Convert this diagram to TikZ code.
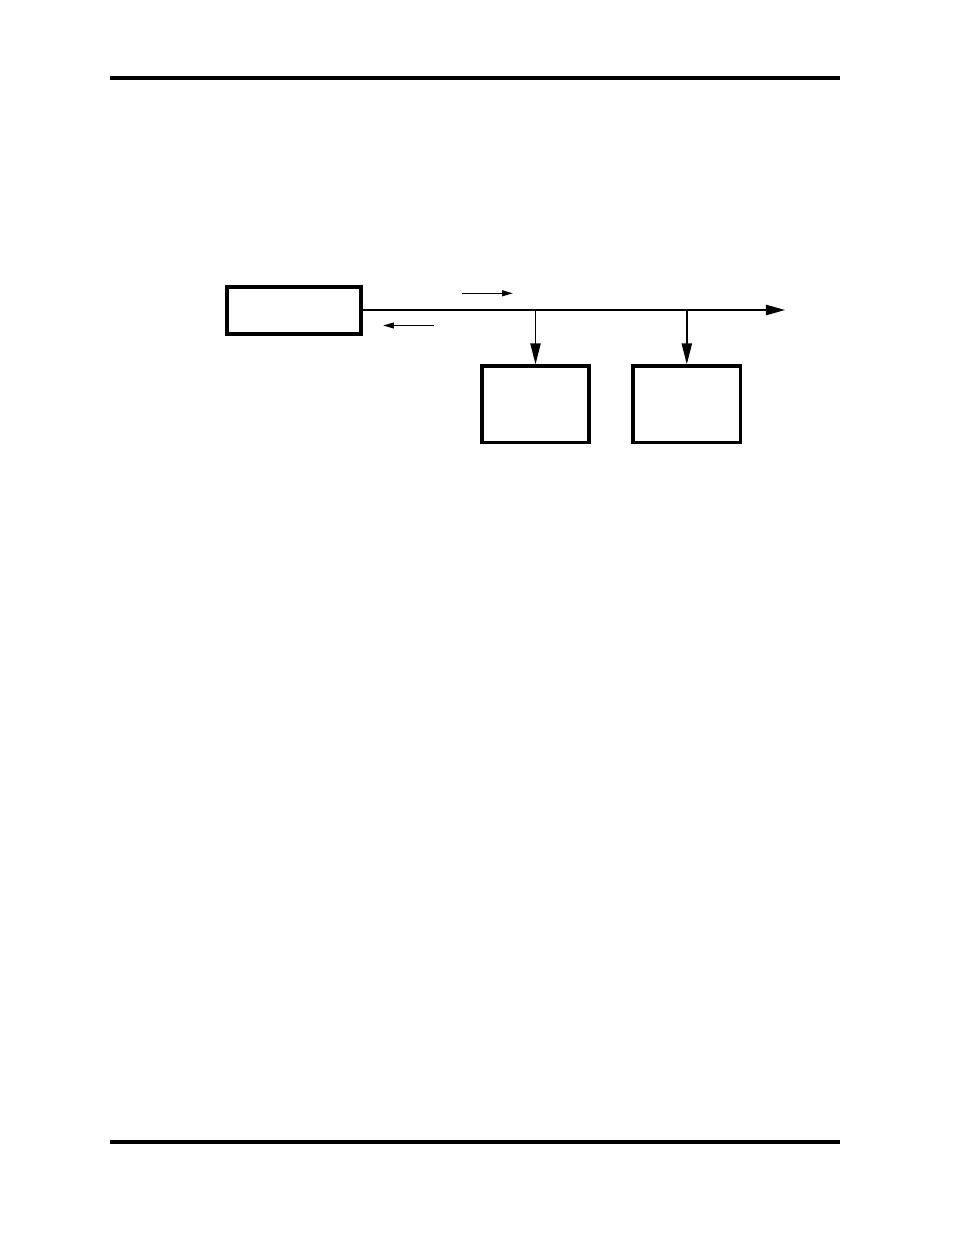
\documentclass[tikz,border=0pt]{standalone}
\usetikzlibrary{arrows.meta}
\newdimen\pxu
\pxu=0.6415bp
\begin{document}
\begin{tikzpicture}[x=0.6415bp,y=-0.6415bp,
  rulebar/.style={line width=3.4\pxu},
  blockbox/.style={draw,line width=3.6\pxu,minimum width=134.4\pxu,minimum height=46.6\pxu,inner sep=0pt},
  unitbox/.style={draw,line width=3.6\pxu,minimum width=107.4\pxu,minimum height=76.4\pxu,inner sep=0pt},
  busline/.style={line width=1.5\pxu,-{Triangle[length=12.2bp,width=6.6bp]}},
  dropline/.style={line width=1.5\pxu,-{Triangle[length=13.5bp,width=6.6bp]}},
  dirarrow/.style={line width=1.5\pxu,-{Triangle[length=7bp,width=3.7bp]}}]
\useasboundingbox (0,0) rectangle (954,1235);
% page rules
\coordinate (rt1) at (110,78);
\coordinate (rt2) at (840,78);
\coordinate (rb1) at (110,1142);
\coordinate (rb2) at (840,1142);
\draw[rulebar] (rt1) -- (rt2);
\draw[rulebar] (rb1) -- (rb2);
% boxes
\node[blockbox] (src) at (294,310.5) {};
\node[unitbox] (u1) at (535.5,404.3) {};
\node[unitbox] (u2) at (686.8,404.3) {};
% bus
\coordinate (busend) at (785,310);
\coordinate (tap1) at (u1.north |- busend);
\coordinate (tap2) at (u2.north |- busend);
\draw[busline] (src.east |- busend) -- (busend);
\draw[dropline] (tap1) -- (u1.north);
\draw[dropline] (tap2) -- (u2.north);
% direction arrows
\coordinate (ra1) at (462,293.3);
\coordinate (ra2) at (513,293.3);
\coordinate (la1) at (434,325.5);
\coordinate (la2) at (383,325.5);
\draw[dirarrow] (ra1) -- (ra2);
\draw[dirarrow] (la1) -- (la2);
\end{tikzpicture}
\end{document}
